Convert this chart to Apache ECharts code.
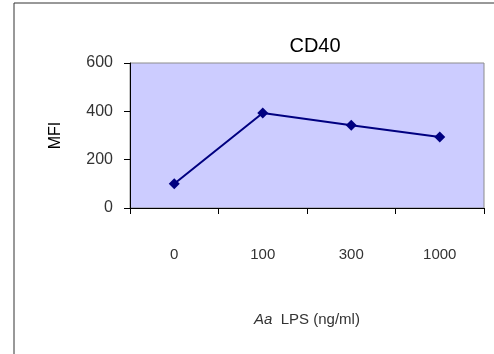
<!DOCTYPE html>
<html>
<head>
<meta charset="utf-8">
<script src="https://cdn.jsdelivr.net/npm/echarts@6/dist/echarts.min.js"></script>
<style>
  html, body { margin: 0; padding: 0; background: #fff; }
  #chart { width: 494px; height: 354px; }
</style>
</head>
<body>
<div id="chart"></div>
<script>
// LPS doses (ng/ml) and mean fluorescence intensity of CD40
const doses = ['0', '100', '300', '1000'];
const mfiValues = [100, 393, 342, 294];
const yTicks = { min: 0, max: 600, interval: 200 };

const chart = echarts.init(document.getElementById('chart'), null, { renderer: 'canvas' });
const font = '"Liberation Sans", Arial, sans-serif';

chart.setOption({
  backgroundColor: '#ffffff',
  animation: false,
  title: {
    text: 'CD40',
    left: 310,
    top: 31,
    textAlign: 'center',
    textStyle: { fontFamily: font, fontSize: 20, fontWeight: 'normal', color: '#000' }
  },
  graphic: [{
    type: 'rect',
    shape: { x: 14, y: 3, width: 520, height: 400 },
    style: { fill: 'none', stroke: '#333', lineWidth: 1 },
    silent: true
  }],
  grid: {
    left: 130, right: 10, top: 63, bottom: 146,
    show: true,
    backgroundColor: '#CCCCFF',
    borderColor: '#8c8c8c',
    borderWidth: 1
  },
  xAxis: {
    type: 'category',
    data: doses,
    boundaryGap: true,
    axisLine: { lineStyle: { color: '#000', width: 1 } },
    axisTick: { show: true, length: 6, lineStyle: { color: '#000' }, alignWithLabel: false },
    axisLabel: { margin: 39, fontFamily: font, fontSize: 15, color: '#333' },
    name: '{i|Aa}  LPS (ng/ml)',
    nameLocation: 'middle',
    nameGap: 104,
    nameTextStyle: {
      fontFamily: font, fontSize: 15, color: '#333',
      rich: { i: { fontStyle: 'italic', fontFamily: font, fontSize: 15, color: '#333' } }
    }
  },
  yAxis: {
    type: 'value',
    min: yTicks.min, max: yTicks.max, interval: yTicks.interval,
    splitLine: { show: false },
    axisLine: { show: true, lineStyle: { color: '#000', width: 1 } },
    axisTick: { show: true, length: 6, lineStyle: { color: '#000' } },
    axisLabel: { margin: 17, fontFamily: font, fontSize: 16, color: '#333' },
    name: 'MFI',
    nameLocation: 'middle',
    nameGap: 66,
    nameRotate: 90,
    nameTextStyle: { fontFamily: font, fontSize: 16, color: '#000' }
  },
  series: [{
    type: 'line',
    data: mfiValues,
    symbol: 'diamond',
    symbolSize: 11,
    itemStyle: { color: '#000080' },
    lineStyle: { color: '#000080', width: 2 }
  }]
});
</script>
</body>
</html>
